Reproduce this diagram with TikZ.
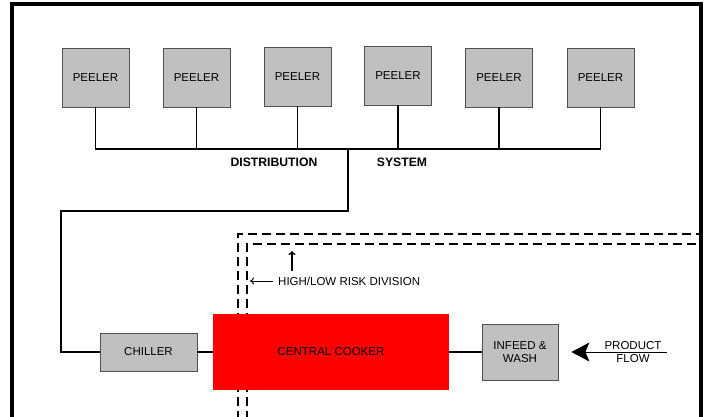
\documentclass[tikz,border=0pt]{standalone}
\usepackage{fontspec}
\setmainfont{Liberation Sans}
\usepackage{xcolor}
\usepackage{tikz}
\usetikzlibrary{positioning,arrows.meta}

\definecolor{boxgray}{HTML}{C0C0C0}
\definecolor{boxline}{HTML}{505050}

\begin{document}
\begin{tikzpicture}[x=1pt,y=-1pt,
            unitbox/.style={rectangle, draw=boxline, fill=boxgray, line width=0.8pt, inner sep=0pt, font=\fontsize{11.5}{13}\selectfont},
            peelerbox/.style={unitbox, minimum width=67pt, minimum height=59pt},
            pipe/.style={line width=1.8pt, line cap=rect},
            divline/.style={line width=1.2pt, dash pattern=on 9pt off 5pt},
            plainlabel/.style={inner sep=0pt, font=\fontsize{11.5}{13}\selectfont},
            boldlabel/.style={inner sep=0pt, font=\fontsize{12.2}{14}\selectfont\bfseries},]
            \clip (0,0) rectangle (705,416);

            %Frame and risk division
            \draw[line width=4pt](12,420)--(12,3.5)--(701,3.5)--(701,420);
            \draw[divline](238,420)--(238,234)--(701,234);
            \draw[divline](247,420)--(247,244)--(701,244);

            %Nodes
            \node[peelerbox](peeler_1) at (95.5,77.5){PEELER};
            \node[peelerbox](peeler_2) at (196.5,77.5){PEELER};
            \node[peelerbox](peeler_3) at (297.5,76.5){PEELER};
            \node[peelerbox](peeler_4) at (398,75.5){PEELER};
            \node[peelerbox](peeler_5) at (499,77.5){PEELER};
            \node[peelerbox](peeler_6) at (600.5,77.5){PEELER};
            \node[boldlabel](distlabel) at (274,162){DISTRIBUTION};
            \node[boldlabel](syslabel) at (402,162){SYSTEM};

            \node[unitbox, minimum width=97pt, minimum height=38pt](chiller) at (148.5,352){CHILLER};
            \node[rectangle, fill=red, inner sep=0pt, minimum width=236pt, minimum height=76pt, font=\fontsize{11.5}{13}\selectfont](cooker) at (331,352){CENTRAL COOKER};
            \node[unitbox, minimum width=76pt, minimum height=56pt, align=center](infeed) at (520,352){INFEED \&\\WASH};

            \node[plainlabel, anchor=west](risklabel) at (278,281){HIGH/LOW RISK DIVISION};
            \node[plainlabel, anchor=south](flowtop) at (633,350){PRODUCT};
            \node[plainlabel, anchor=north](flowbot) at (633,354){FLOW};

            \coordinate (bus_left) at (95.5,149);
            \coordinate (bus_right) at (600.5,149);
            \coordinate (tap) at (348,149);
            \coordinate (bend) at (61,211);
            \coordinate (flowstart) at (667,352);
            \coordinate (uptip) at (292,251);
            \coordinate (uptail) at (292,271);
            \coordinate (lefttip) at (250,281);

            %Lines
            \draw[pipe](bus_left)--(bus_right);
            \draw[pipe](peeler_1.south)--(peeler_1.south |- bus_left);
            \draw[pipe](peeler_2.south)--(peeler_2.south |- bus_left);
            \draw[pipe](peeler_3.south)--(peeler_3.south |- bus_left);
            \draw[pipe](peeler_4.south)--(peeler_4.south |- bus_left);
            \draw[pipe](peeler_5.south)--(peeler_5.south |- bus_left);
            \draw[pipe](peeler_6.south)--(peeler_6.south |- bus_left);
            \draw[pipe, line cap=butt](tap)|-(bend)|-(chiller.west);
            \draw[pipe, line cap=butt](chiller.east)--(cooker.west);
            \draw[pipe, line cap=butt](cooker.east)--(infeed.west);

            \draw[line width=1pt, -{Stealth[length=18pt, width=19pt, inset=4pt]}, shorten >=13pt](flowstart)--(infeed.east);
            \draw[line width=1.4pt, -{To[length=4pt, width=7pt]}](uptail)--(uptip);
            \draw[line width=1pt, -{To[length=4pt, width=7pt]}](risklabel.west)++(-5,0)--(lefttip);

        \end{tikzpicture}
\end{document}
